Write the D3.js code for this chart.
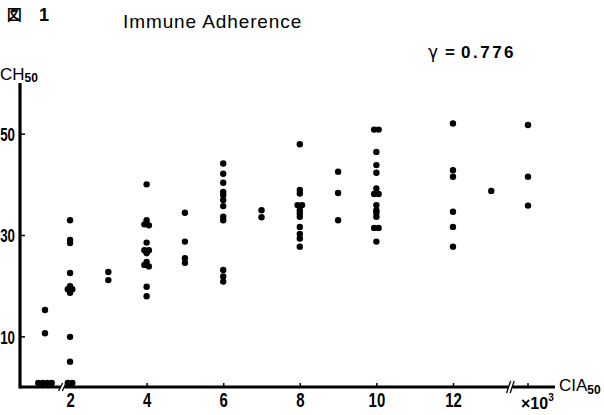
<!DOCTYPE html>
<html>
<head>
<meta charset="utf-8">
<script src="https://cdn.jsdelivr.net/npm/d3@7"></script>
<style>
  html, body { margin: 0; padding: 0; background: #fff; }
  svg { display: block; }
  .cond { font-family: "Liberation Sans", Arial, sans-serif; font-weight: bold; }
  .plain { font-family: "Liberation Sans", Arial, sans-serif; }
</style>
</head>
<body>
<svg id="chart" width="604" height="415"></svg>
<script>
// CIA50 levels (x10^3); 0 = below detection, 20 = beyond the axis break
const ciaLevels = [0, 2, 3, 4, 5, 6, 7, 8, 9, 10, 12, 13, 20];

// CH50 values observed at each CIA50 level
const ch50AtLevel = [
  [15.2, 10.6, 0.8, 0.8, 0.8, 0.8],
  [32.9, 29.0, 28.4, 22.5, 19.9, 19.3, 19.3, 18.6, 9.9, 5.0, 0.8, 0.8],
  [22.7, 21.1],
  [40.0, 32.9, 32.1, 31.9, 28.5, 27.0, 27.0, 26.4, 24.7, 24.1, 23.8, 19.8, 17.9],
  [34.4, 28.7, 25.4, 24.5],
  [44.1, 42.1, 40.3, 38.5, 37.9, 36.9, 35.7, 33.6, 32.9, 23.1, 21.8, 20.8],
  [34.9, 33.5],
  [47.9, 38.9, 38.2, 35.9, 35.9, 34.9, 34.3, 33.6, 31.6, 30.2, 29.3, 27.7],
  [42.5, 38.3, 32.9],
  [50.8, 50.8, 46.4, 43.8, 42.3, 39.2, 38.1, 38.1, 35.9, 34.9, 34.4, 33.6, 31.4, 31.4, 28.7],
  [52.0, 42.8, 41.5, 34.6, 31.6, 27.7],
  [38.7],
  [51.7, 41.5, 35.8]
];

const xTickValues = [2, 4, 6, 8, 10, 12];
const yTickValues = [10, 30, 50];
const correlation = "0.776";

const svg = d3.select("#chart");

// Piecewise x scale: compressed segment before the first break, linear 2..13, then past the second break
const x = d3.scaleLinear()
  .domain([0, 1.8, 13.5, 20])
  .range([45, 62.4, 510.4, 528]);
const y = d3.scaleLinear().domain([0, 60]).range([387, 83]);

const axisX0 = 20;

// Narrow digits: squeeze each glyph to a fixed advance
function condense(sel, perChar) {
  sel.each(function () {
    const t = d3.select(this);
    const n = t.text().length;
    t.attr("textLength", n * perChar).attr("lengthAdjust", "spacingAndGlyphs");
  });
}

// Flatten the data, spreading coincident values side by side
const points = [];
ciaLevels.forEach((lv, i) => {
  const vals = ch50AtLevel[i].slice().sort((a, b) => b - a);
  let g = 0;
  while (g < vals.length) {
    let h = g + 1;
    while (h < vals.length && Math.abs(vals[h] - vals[h - 1]) < 0.45) h++;
    const n = h - g;
    for (let k = g; k < h; k++) {
      points.push({ cia: lv, ch: vals[k], dodge: (k - g - (n - 1) / 2) * 4.5 });
    }
    g = h;
  }
});

// Axes
const axisG = svg.append("g").attr("stroke", "#000").attr("fill", "none");
axisG.append("line")
  .attr("x1", axisX0).attr("x2", axisX0)
  .attr("y1", y(60)).attr("y2", y(0) + 1.5)
  .attr("stroke-width", 3.2);

const brk1 = x(1.8), brk2 = x(13.5);
[[axisX0, brk1 - 2], [brk1 + 2, brk2 - 2], [brk2 + 2, 555]].forEach(([a, b]) => {
  axisG.append("line")
    .attr("x1", a).attr("x2", b)
    .attr("y1", y(0)).attr("y2", y(0))
    .attr("stroke-width", 3);
});
// Break marks
[[brk1, 4], [brk2, 6]].forEach(([bx, h]) => {
  [-1.8, 1.8].forEach(o => {
    axisG.append("line")
      .attr("x1", bx + o - 2).attr("y1", y(0) + h)
      .attr("x2", bx + o + 2).attr("y2", y(0) - h)
      .attr("stroke-width", 1.3);
  });
});

// x ticks and labels
const xAxis = d3.axisBottom(x).tickValues(xTickValues).tickSize(0).tickPadding(6);
const xg = svg.append("g").attr("transform", `translate(0,${y(0)})`).call(xAxis);
xg.select(".domain").remove();
xg.selectAll("text").attr("class", "cond").attr("font-size", 20).attr("fill", "#000").attr("dy", "0.72em")
  .call(condense, 8.3);
xg.selectAll(".tick").append("line")
  .attr("y1", -1).attr("y2", -4).attr("stroke", "#000").attr("stroke-width", 1.5);
svg.append("line")
  .attr("x1", x(20)).attr("x2", x(20))
  .attr("y1", y(0) - 1).attr("y2", y(0) - 4)
  .attr("stroke", "#000").attr("stroke-width", 1.5);

// y ticks and labels
const yAxis = d3.axisLeft(y).tickValues(yTickValues).tickSize(0).tickPadding(5);
const yg = svg.append("g").attr("transform", `translate(${axisX0},0)`).call(yAxis);
yg.select(".domain").remove();
yg.selectAll("text").attr("class", "cond").attr("font-size", 19).attr("fill", "#000").attr("dy", "0.36em")
  .call(condense, 7.4);
yg.selectAll(".tick").append("line")
  .attr("x1", 1).attr("x2", 5).attr("stroke", "#000").attr("stroke-width", 1.5);

// Points
svg.append("g").selectAll("circle")
  .data(points)
  .join("circle")
  .attr("cx", d => x(d.cia) + d.dodge)
  .attr("cy", d => y(d.ch))
  .attr("r", 3.2)
  .attr("fill", "#000");

// Titles and labels
svg.append("text").attr("class", "plain")
  .attr("x", 7).attr("y", 20).attr("font-size", 15).attr("font-weight", "bold")
  .text("図");
svg.append("text").attr("class", "cond")
  .attr("x", 39).attr("y", 21).attr("font-size", 18).attr("font-weight", "normal")
  .text("1");
svg.append("text").attr("class", "plain")
  .attr("x", 123).attr("y", 28).attr("font-size", 19).attr("letter-spacing", 0.9)
  .text("Immune Adherence");

const r = svg.append("text").attr("class", "plain")
  .attr("x", 428).attr("y", 58).attr("font-size", 17).attr("font-weight", "bold");
r.append("tspan").attr("font-weight", "normal").attr("font-family", "DejaVu Sans").text("γ");
r.append("tspan").attr("dx", 7).text("=");
r.append("tspan").attr("dx", 6).attr("letter-spacing", 2.5).text(correlation);

const yl = svg.append("text").attr("class", "plain")
  .attr("x", 0).attr("y", 80).attr("font-size", 17);
yl.append("tspan").text("CH");
yl.append("tspan").attr("class", "cond").attr("font-size", 12).attr("dy", 2).text("50");

const xu = svg.append("text").attr("class", "cond")
  .attr("x", 521).attr("y", 409).attr("font-size", 16);
xu.append("tspan").text("×10");
xu.append("tspan").attr("font-size", 10).attr("dy", -8).text("3");

const xl = svg.append("text").attr("class", "plain")
  .attr("x", 559).attr("y", 391).attr("font-size", 17);
xl.append("tspan").text("CIA");
xl.append("tspan").attr("class", "cond").attr("font-size", 12).attr("dy", 3).text("50");
</script>
</body>
</html>
